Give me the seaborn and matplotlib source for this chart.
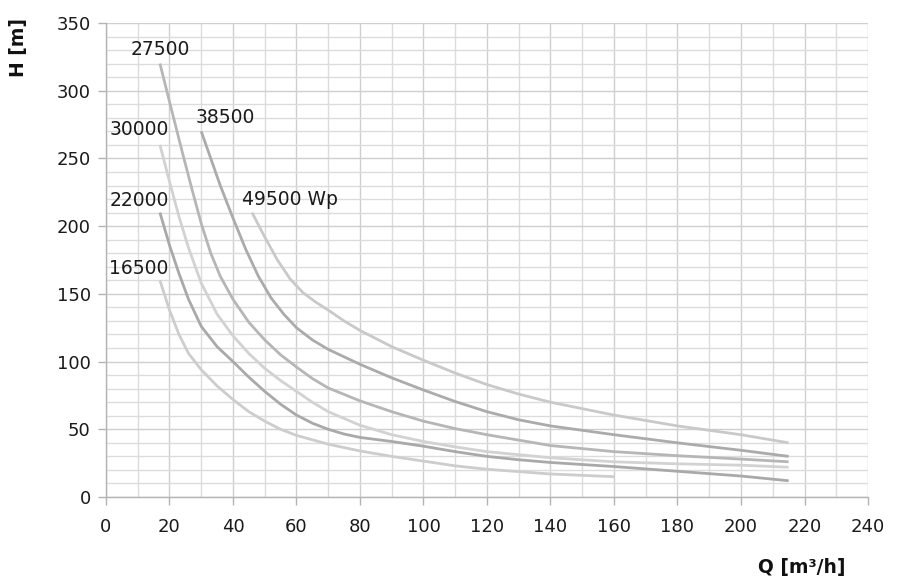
import numpy as np
import pandas as pd
import matplotlib
matplotlib.use("Agg")
import matplotlib.pyplot as plt
import seaborn as sns

# ---- data ----
q_16500 = [17, 20, 23, 26, 30, 35, 40, 45, 50, 55, 60, 70, 80, 90, 100, 110, 120, 140, 160]
h_16500 = [160, 138, 120, 106, 94, 82, 72, 63, 56, 50, 45.5, 39, 34, 30, 26.5, 23, 20.5, 17, 15]

q_22000 = [17, 20, 23, 26, 30, 35, 40, 45, 50, 55, 60, 65, 70, 75, 80, 85, 90, 100, 110, 120, 130, 140, 160, 180, 200, 215]
h_22000 = [210, 186, 165, 146, 126, 111, 100, 88.5, 78, 68.5, 60.5, 54.5, 50, 46.5, 44, 42.5, 41, 37.5, 33.5, 30, 27.5, 25.5, 22.5, 19, 15.5, 12]

q_30000 = [17, 20, 23, 26, 30, 35, 40, 45, 50, 55, 60, 65, 70, 80, 90, 100, 110, 120, 140, 160, 180, 200, 215]
h_30000 = [260, 233, 207, 184, 158, 135, 119, 106, 95, 86, 78, 70, 63, 53, 46, 41, 37, 33.5, 29, 26, 24.5, 23.5, 22]

q_27500 = [17, 20, 24, 27, 30, 33, 36, 40, 45, 50, 55, 60, 65, 70, 80, 90, 100, 110, 120, 140, 160, 180, 200, 215]
h_27500 = [320, 292, 255, 228, 202, 180, 163, 146, 129, 116, 105, 96, 87.5, 80.5, 71, 63, 56, 50.5, 46, 38, 33.5, 30.5, 28, 26]

q_38500 = [30, 33, 36, 40, 44, 48, 52, 56, 60, 65, 70, 80, 90, 100, 110, 120, 130, 140, 160, 180, 200, 215]
h_38500 = [270, 250, 230, 206, 183, 163, 147, 135, 125, 116, 109, 98, 88, 79, 70.5, 63, 57, 52.5, 46, 40, 34.5, 30]

q_49500 = [46, 50, 54, 58, 62, 66, 70, 75, 80, 90, 100, 110, 120, 130, 140, 160, 180, 200, 215]
h_49500 = [210, 192, 175, 161, 151, 144, 138, 130, 123, 111, 101, 91.5, 83, 76, 70, 60.5, 52.5, 46, 40]

series_names = ["16500", "22000", "30000", "27500", "38500", "49500 Wp"]
series_q = [q_16500, q_22000, q_30000, q_27500, q_38500, q_49500]
series_h = [h_16500, h_22000, h_30000, h_27500, h_38500, h_49500]

x_ticks = list(range(0, 241, 20))
y_ticks = list(range(0, 351, 50))
x_label = "Q [m³/h]"
y_label = "H [m]"

# ---- styles ----
colors = {"16500": "#cdcdcd", "22000": "#a9a9a9", "30000": "#d2d2d2",
          "27500": "#b6b6b6", "38500": "#ababab", "49500 Wp": "#c9c9c9"}
# label placement: (ha, dx, dy) relative to the curve start
label_style = {"16500": ("right", 2.5, 2.0), "22000": ("right", 2.8, 2.0),
               "30000": ("right", 2.8, 4.5), "27500": ("center", 0, 3.5),
               "38500": ("left", -1.8, 3.5), "49500 Wp": ("left", -3, 2.5)}

frames = []
for name, q, h in zip(series_names, series_q, series_h):
    frames.append(pd.DataFrame({"Q": q, "H": h, "series": name}))
df = pd.concat(frames, ignore_index=True)

sns.set_theme(style="white")
plt.rcParams["font.family"] = ["DejaVu Sans"]

fig = plt.figure(figsize=(8.98, 5.79), dpi=100)
ax = fig.add_axes([0.118, 0.1416, 0.8486, 0.8187])

sns.lineplot(data=df, x="Q", y="H", hue="series", palette=colors,
             hue_order=series_names, sort=False, estimator=None,
             linewidth=2.0, legend=False, ax=ax, zorder=3)
for ln in ax.lines:
    ln.set_solid_joinstyle("round")
    ln.set_solid_capstyle("butt")

ax.set_xlim(0, 240)
ax.set_ylim(0, 350)
ax.set_xticks(x_ticks)
ax.set_yticks(y_ticks)
ax.set_xticks(range(0, 241, 10), minor=True)
ax.set_yticks(range(0, 351, 10), minor=True)
ax.grid(which="major", color="#cfcfcf", linewidth=1.0, zorder=0)
ax.grid(which="minor", color="#dcdcdc", linewidth=1.0, zorder=0)
ax.set_axisbelow(True)
for s in ["top", "right"]:
    ax.spines[s].set_visible(False)
for s in ["left", "bottom"]:
    ax.spines[s].set_color("#b3b3b3")
    ax.spines[s].set_linewidth(1.0)
ax.tick_params(axis="x", which="major", length=6, width=1.0, color="#b3b3b3",
               labelsize=13, labelcolor="#1a1a1a", pad=9, bottom=True)
ax.tick_params(axis="y", which="major", length=6, width=1.0, color="#b3b3b3",
               labelsize=13, labelcolor="#1a1a1a", pad=5, left=True)
ax.tick_params(which="minor", length=0)
ax.set_xlabel("")
ax.set_ylabel("")

for name, q, h in zip(series_names, series_q, series_h):
    ha, dx, dy = label_style[name]
    ax.text(q[0] + dx, h[0] + dy, name, ha=ha, va="bottom",
            fontsize=13.5, color="#1a1a1a", zorder=4)

fig.text(0.021, 0.918, y_label, rotation=90, ha="center", va="center",
         fontsize=13.5, fontweight="bold", color="#111111")
fig.text(0.893, 0.019, x_label, ha="center", va="center",
         fontsize=13.5, fontweight="bold", color="#111111")

fig.savefig("out.png", dpi=100)
